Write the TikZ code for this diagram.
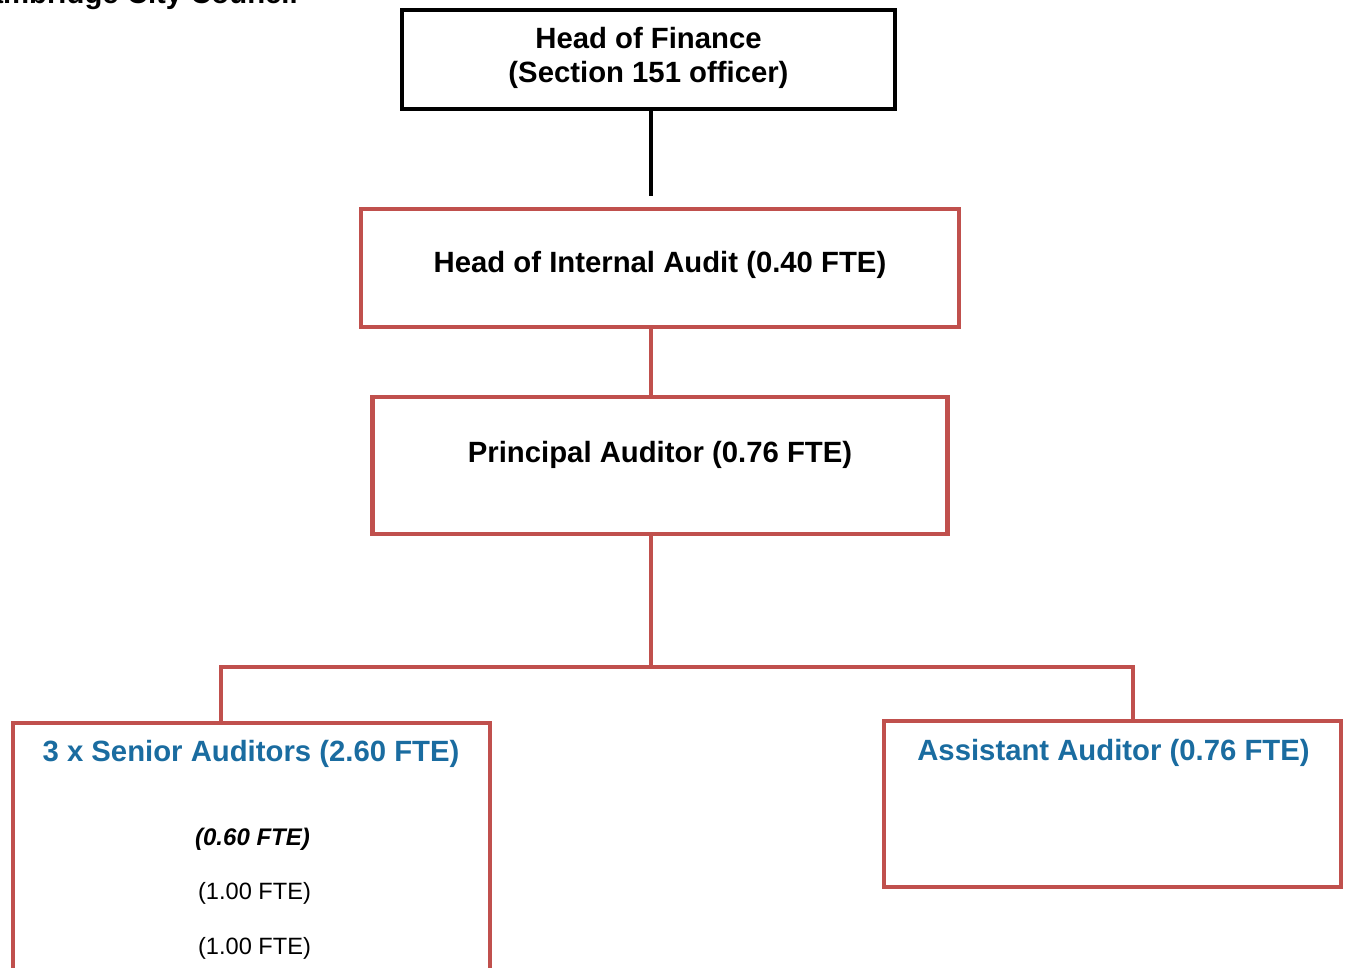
\documentclass[tikz,border=0pt]{standalone}
\usepackage{fontspec}
\setmainfont{Liberation Sans}
\usetikzlibrary{positioning}
\definecolor{boxred}{HTML}{C0504D}
\definecolor{titleblue}{HTML}{1A6CA0}

\begin{document}
\begin{tikzpicture}[x=1pt,y=-1pt,
  blackbox/.style={draw=black, line width=4.5pt, inner sep=0pt},
  redbox/.style={draw=boxred, line width=4.5pt, inner sep=0pt},
  big/.style={font=\fontsize{29.3}{34}\selectfont\bfseries, inner sep=0pt, anchor=base, align=center},
  small/.style={font=\fontsize{23.6}{28}\selectfont, inner sep=0pt, anchor=base},
  link/.style={draw=boxred, line width=3.5pt}]
  \clip (0,0) rectangle (1350,967);
  \node[big, anchor=base east] (council) at (298,3) {Cambridge City Council};
  % boxes
  \node[blackbox, minimum width=493pt, minimum height=99pt] (fin) at (648.5,59.5) {};
  \node[redbox, minimum width=598pt, minimum height=118pt] (ia) at (660,268) {};
  \node[redbox, minimum width=575pt, minimum height=137pt] (pa) at (660,465.5) {};
  \node[redbox, minimum width=477pt, minimum height=277pt] (sen) at (251.5,861.5) {};
  \node[redbox, minimum width=457pt, minimum height=166pt] (asst) at (1112.5,804) {};
  % texts
  \node[big] (fin-t) at (648.5,82) {Head of Finance\\(Section 151 officer)};
  \node[big] (ia-t) at (660,272) {Head of Internal Audit (0.40 FTE)};
  \node[big] (pa-t) at (660,462) {Principal Auditor (0.76 FTE)};
  \node[big, text=titleblue] (sen-t) at (251,761) {3 x Senior Auditors (2.60 FTE)};
  \node[small, font=\fontsize{24}{28}\selectfont\bfseries\itshape] (sen-a) at (252.5,845) {(0.60 FTE)};
  \node[small] (sen-b) at (254.5,899) {(1.00 FTE)};
  \node[small] (sen-c) at (254.5,954) {(1.00 FTE)};
  \node[big, text=titleblue] (asst-t) at (1113.5,760) {Assistant Auditor (0.76 FTE)};
  % connectors
  \coordinate (spine) at (651,667);
  \coordinate (left) at (221,667);
  \coordinate (right) at (1133,667);
  \draw[black, line width=3.5pt, shorten >=11pt] (fin.south -| spine) -- (ia.north -| spine);
  \draw[link] (ia.south -| spine) -- (pa.north -| spine);
  \draw[link] (pa.south -| spine) -- (spine);
  \draw[link] (left |- sen.north) -- (left) -- (right) -- (right |- asst.north);
\end{tikzpicture}
\end{document}
